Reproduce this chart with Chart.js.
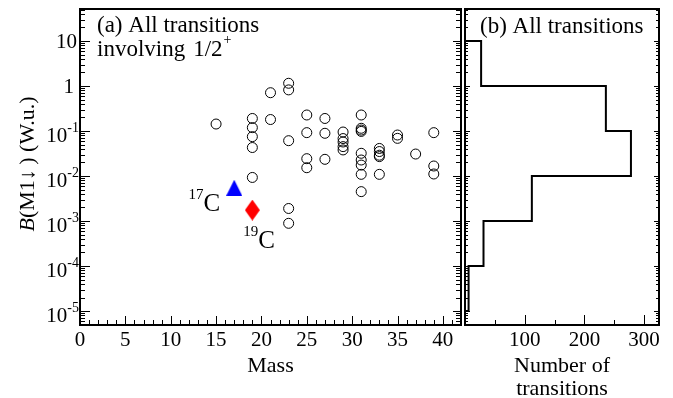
<!DOCTYPE html>
<html lang="en">
<head>
<meta charset="UTF-8">
<title>B(M1) 1/2+ transitions</title>
<script src="https://cdn.jsdelivr.net/npm/chart.js"></script>
<style>
  body { margin: 0; background: #fff; }
  #painel_a { position: absolute; left: 0; top: 0; }
  #painel_b { position: absolute; left: 455px; top: 0; }
</style>
</head>
<body>
<canvas id="painel_a" width="470" height="398"></canvas>
<canvas id="painel_b" width="218" height="398"></canvas>

<script>
  var FONT = '"Liberation Serif", "Times New Roman", serif';

  // (a) transitions involving 1/2+ : mass number and B(M1) in W.u.
  var massList = [15,
    19, 19, 19, 19, 19,
    21, 21,
    23, 23, 23, 23, 23,
    25, 25, 25, 25,
    27, 27, 27,
    29, 29, 29, 29, 29,
    31, 31, 31, 31, 31, 31, 31, 31, 31,
    33, 33, 33, 33, 33,
    35, 35,
    37,
    39, 39, 39];
  var bm1List = [0.143,
    0.19, 0.119, 0.075, 0.043, 0.0093,
    0.71, 0.18,
    1.15, 0.82, 0.061, 0.0019, 0.00089,
    0.227, 0.092, 0.0243, 0.0153,
    0.19, 0.089, 0.0235,
    0.095, 0.068, 0.057, 0.045, 0.038,
    0.227, 0.115, 0.105, 0.098, 0.032, 0.0227, 0.0175, 0.0109, 0.0045,
    0.041, 0.035, 0.029, 0.027, 0.0109,
    0.0815, 0.0687,
    0.0308,
    0.092, 0.0167, 0.0111];

  // carbon isotopes
  var c17Mass = [17];
  var c17B = [0.0055];
  var c19Mass = [19];
  var c19B = [0.00175];

  // (b) all transitions, counted per decade of B(M1)
  var binEdges = [1e-5, 1e-4, 1e-3, 1e-2, 1e-1, 1, 10];
  var binCounts = [6, 31, 112, 278, 236, 27];

  // ranges and tick labels
  var massMin = 0, massMax = 42;
  var bMin = 4.9e-6, bMax = 51.4;
  var countMin = 0, countMax = 325;
  var massTicks = [0, 5, 10, 15, 20, 25, 30, 35, 40];
  var countTicks = [100, 200, 300];
  var decadeTicks = [-5, -4, -3, -2, -1, 0, 1];

  function pontos(xs, ys) {
    var lista = [];
    for (var i = 0; i < xs.length; i++) {
      lista.push({ x: xs[i], y: ys[i] });
    }
    return lista;
  }

  function degraus(edges, counts) {
    // step outline of the horizontal histogram
    var lista = [{ x: 0, y: edges[0] }];
    for (var i = 0; i < counts.length; i++) {
      lista.push({ x: counts[i], y: edges[i] });
      lista.push({ x: counts[i], y: edges[i + 1] });
    }
    lista.push({ x: 0, y: edges[edges.length - 1] });
    return lista;
  }

  function marcadorTriangulo(w, h, cor) {
    var c = document.createElement('canvas');
    c.width = w; c.height = h;
    var g = c.getContext('2d');
    g.fillStyle = cor;
    g.beginPath();
    g.moveTo(w / 2, 0);
    g.lineTo(w, h);
    g.lineTo(0, h);
    g.closePath();
    g.fill();
    return c;
  }

  function marcadorLosango(w, h, cor) {
    var c = document.createElement('canvas');
    c.width = w; c.height = h;
    var g = c.getContext('2d');
    g.fillStyle = cor;
    g.beginPath();
    g.moveTo(w / 2, 0);
    g.lineTo(w, h / 2);
    g.lineTo(w / 2, h);
    g.lineTo(0, h / 2);
    g.closePath();
    g.fill();
    return c;
  }

  function linha(ctx, x1, y1, x2, y2) {
    ctx.beginPath();
    ctx.moveTo(x1, y1);
    ctx.lineTo(x2, y2);
    ctx.stroke();
  }

  // inward ticks of the log axis, on one vertical edge
  function ticksLog(ctx, sy, x, dir, maior, menor) {
    for (var k = -6; k <= 1; k++) {
      for (var j = 1; j <= 9; j++) {
        var v = j * Math.pow(10, k);
        if (v < bMin || v > bMax) continue;
        var py = Math.round(sy.getPixelForValue(v)) + 0.5;
        linha(ctx, x, py, x + dir * (j == 1 ? maior : menor), py);
      }
    }
  }

  var frameA = {
    id: 'frameA',
    afterDraw: function (chart) {
      var ctx = chart.ctx;
      var a = chart.chartArea;
      var sx = chart.scales.x, sy = chart.scales.y;
      ctx.save();
      ctx.strokeStyle = '#000';
      ctx.fillStyle = '#000';
      ctx.lineWidth = 1;

      for (var m = massMin; m <= massMax; m++) {
        var px = Math.round(sx.getPixelForValue(m)) + 0.5;
        linha(ctx, px, a.bottom, px, a.bottom - (m % 5 == 0 ? 9 : 5));
      }
      ticksLog(ctx, sy, a.left, 1, 10, 5);
      ticksLog(ctx, sy, a.right, -1, 8, 5);

      ctx.lineWidth = 2;
      ctx.strokeRect(a.left, a.top, a.right - a.left, a.bottom - a.top);

      // mass labels
      ctx.font = '21px ' + FONT;
      ctx.textAlign = 'center';
      ctx.textBaseline = 'alphabetic';
      for (var i = 0; i < massTicks.length; i++) {
        ctx.fillText(String(massTicks[i]), sx.getPixelForValue(massTicks[i]), a.bottom + 21);
      }

      // decade labels
      ctx.textAlign = 'right';
      for (var d = 0; d < decadeTicks.length; d++) {
        var k = decadeTicks[d];
        var py = sy.getPixelForValue(Math.pow(10, k));
        if (k == 1) {
          ctx.font = '21px ' + FONT;
          ctx.fillText('10', 77, py + 7);
        } else if (k == 0) {
          ctx.font = '21px ' + FONT;
          ctx.fillText('1', 74, py + 7);
        } else {
          ctx.font = '14px ' + FONT;
          var exp = String(k);
          var w = ctx.measureText(exp).width;
          ctx.fillText(exp, 79, py + 1);
          ctx.font = '21px ' + FONT;
          ctx.fillText('10', 79 - w, py + 11);
        }
      }

      // axis titles
      ctx.textAlign = 'center';
      ctx.font = '22px ' + FONT;
      ctx.fillText('Mass', (a.left + a.right) / 2, 372);

      ctx.save();
      ctx.translate(34, (a.top + a.bottom) / 2 - 3);
      ctx.rotate(-Math.PI / 2);
      ctx.textAlign = 'left';
      ctx.font = 'italic 22px ' + FONT;
      var wB = ctx.measureText('B').width;
      ctx.font = '22px ' + FONT;
      var resto = '(M1\u2193\u2009) (W.u.)';
      var wR = ctx.measureText(resto).width;
      var x0 = -(wB + wR) / 2;
      ctx.font = 'italic 22px ' + FONT;
      ctx.fillText('B', x0, 0);
      ctx.font = '22px ' + FONT;
      ctx.fillText(resto, x0 + wB, 0);
      ctx.restore();

      // panel label
      ctx.textAlign = 'left';
      ctx.font = '23px ' + FONT;
      ctx.fillText('(a) All transitions', a.left + 17, a.top + 23);
      ctx.fillText('involving', a.left + 17, a.top + 47);
      var wInv = ctx.measureText('involving').width;
      var x12 = a.left + 17 + wInv + 8;
      ctx.fillText('1/2', x12, a.top + 47);
      var w12 = ctx.measureText('1/2').width;
      ctx.font = '14px ' + FONT;
      ctx.fillText('+', x12 + w12 + 1, a.top + 35);

      // isotope labels next to their markers
      var p17x = sx.getPixelForValue(c17Mass[0]), p17y = sy.getPixelForValue(c17B[0]);
      ctx.textAlign = 'right';
      ctx.font = '25px ' + FONT;
      ctx.fillText('C', p17x - 14, p17y + 23);
      var wc = ctx.measureText('C').width;
      ctx.font = '15px ' + FONT;
      ctx.fillText('17', p17x - 14 - wc, p17y + 11);

      var p19x = sx.getPixelForValue(c19Mass[0]), p19y = sy.getPixelForValue(c19B[0]);
      ctx.textAlign = 'left';
      ctx.font = '15px ' + FONT;
      ctx.fillText('19', p19x - 9, p19y + 26);
      var w19 = ctx.measureText('19').width;
      ctx.font = '25px ' + FONT;
      ctx.fillText('C', p19x - 9 + w19, p19y + 38);

      ctx.restore();
    }
  };

  var frameB = {
    id: 'frameB',
    afterDraw: function (chart) {
      var ctx = chart.ctx;
      var a = chart.chartArea;
      var sx = chart.scales.x, sy = chart.scales.y;
      ctx.save();
      ctx.strokeStyle = '#000';
      ctx.fillStyle = '#000';
      ctx.lineWidth = 1;

      for (var n = 50; n <= countMax; n += 50) {
        var px = Math.round(sx.getPixelForValue(n)) + 0.5;
        linha(ctx, px, a.bottom, px, a.bottom - (n % 100 == 0 ? 10 : 5));
      }
      ticksLog(ctx, sy, a.left, 1, 5, 3);
      ticksLog(ctx, sy, a.right, -1, 5, 3);

      ctx.lineWidth = 2;
      ctx.strokeRect(a.left, a.top, a.right - a.left, a.bottom - a.top);

      ctx.font = '21px ' + FONT;
      ctx.textAlign = 'center';
      for (var i = 0; i < countTicks.length; i++) {
        ctx.fillText(String(countTicks[i]), sx.getPixelForValue(countTicks[i]), a.bottom + 21);
      }

      ctx.font = '22px ' + FONT;
      var cx = (a.left + a.right) / 2;
      ctx.fillText('Number of', cx, 372);
      ctx.fillText('transitions', cx, 395);

      ctx.textAlign = 'left';
      ctx.font = '23px ' + FONT;
      ctx.fillText('(b) All transitions', a.left + 15, a.top + 24);
      ctx.restore();
    }
  };

  var opcoesBase = {
    responsive: false,
    animation: false,
    events: [],
    plugins: {
      legend: { display: false },
      tooltip: { enabled: false }
    }
  };

  var graficoA = new Chart(document.getElementById('painel_a'), {
    type: 'scatter',
    data: {
      datasets: [{
        data: pontos(massList, bm1List),
        pointStyle: 'circle',
        pointRadius: 5,
        pointHoverRadius: 5,
        borderColor: '#000',
        borderWidth: 1,
        backgroundColor: 'rgba(0,0,0,0)'
      }, {
        data: pontos(c17Mass, c17B),
        pointStyle: marcadorTriangulo(16, 16, '#0000ff'),
        pointRadius: 8
      }, {
        data: pontos(c19Mass, c19B),
        pointStyle: marcadorLosango(15, 21, '#ff0000'),
        pointRadius: 8
      }]
    },
    options: Object.assign({}, opcoesBase, {
      layout: { padding: { left: 0, right: 5, top: 9, bottom: 0 } },
      scales: {
        x: {
          type: 'linear', min: massMin, max: massMax,
          ticks: { display: false }, grid: { display: false }, border: { display: false },
          afterFit: function (s) { s.height = 73; }
        },
        y: {
          type: 'logarithmic', min: bMin, max: bMax,
          ticks: { display: false }, grid: { display: false }, border: { display: false },
          afterFit: function (s) { s.width = 80; }
        }
      }
    }),
    plugins: [frameA]
  });

  var graficoB = new Chart(document.getElementById('painel_b'), {
    type: 'scatter',
    data: {
      datasets: [{
        data: degraus(binEdges, binCounts),
        showLine: true,
        tension: 0,
        pointRadius: 0,
        borderColor: '#000',
        borderWidth: 2
      }]
    },
    options: Object.assign({}, opcoesBase, {
      layout: { padding: { left: 0, right: 14, top: 9, bottom: 0 } },
      scales: {
        x: {
          type: 'linear', min: countMin, max: countMax,
          ticks: { display: false }, grid: { display: false }, border: { display: false },
          afterFit: function (s) { s.height = 73; }
        },
        y: {
          type: 'logarithmic', min: bMin, max: bMax,
          ticks: { display: false }, grid: { display: false }, border: { display: false },
          afterFit: function (s) { s.width = 10; }
        }
      }
    }),
    plugins: [frameB]
  });
</script>
</body>
</html>
